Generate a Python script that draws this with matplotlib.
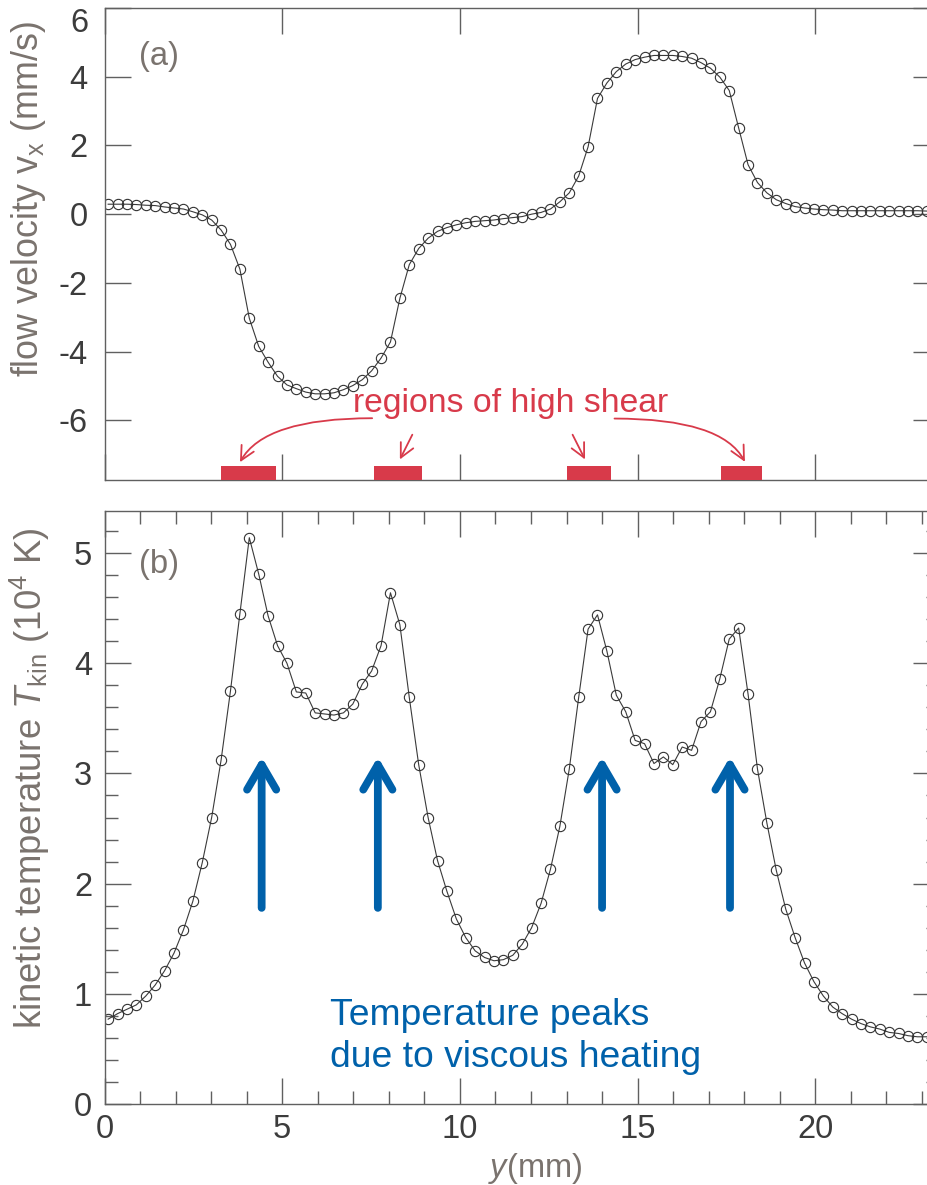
import numpy as np
import matplotlib
matplotlib.use("Agg")
import matplotlib.pyplot as plt
from matplotlib.ticker import MultipleLocator, NullLocator

plt.rcParams['font.family'] = ['Liberation Sans', 'DejaVu Sans']
plt.rcParams['mathtext.fontset'] = 'custom'
plt.rcParams['mathtext.rm'] = 'Liberation Sans'
plt.rcParams['mathtext.it'] = 'Liberation Sans:italic'
plt.rcParams['axes.unicode_minus'] = False

# ---------------- data ----------------
y_mm = np.linspace(0.10, 23.14, 88)

vx = [0.29, 0.29, 0.29, 0.28, 0.26, 0.25, 0.21, 0.18, 0.15, 0.07, -0.02, -0.17,
      -0.46, -0.88, -1.60, -3.03, -3.85, -4.31, -4.72, -4.97, -5.08, -5.18, -5.23,
      -5.23, -5.20, -5.11, -4.99, -4.82, -4.56, -4.19, -3.72, -2.45, -1.47,
      -1.00, -0.70, -0.50, -0.39, -0.31, -0.25, -0.21, -0.19, -0.17, -0.13, -0.10,
      -0.07, 0.00, 0.05, 0.15, 0.36, 0.62, 1.11, 1.96, 3.37, 3.82, 4.15, 4.37, 4.50,
      4.57, 4.62, 4.62, 4.62, 4.59, 4.54, 4.41, 4.25, 3.99,
      3.60, 2.51, 1.44, 0.92, 0.62, 0.42, 0.31, 0.22, 0.18, 0.15, 0.13, 0.12, 0.10,
      0.10, 0.10, 0.10, 0.10, 0.10, 0.10, 0.10, 0.10, 0.09]

Tkin = [0.77, 0.82, 0.86, 0.90, 0.98, 1.08, 1.21, 1.37, 1.58, 1.84, 2.19, 2.60,
        3.12, 3.75, 4.45, 5.14, 4.81, 4.43, 4.16, 4.00, 3.74, 3.73, 3.55, 3.54,
        3.53, 3.55, 3.63, 3.81, 3.93, 4.16, 4.64, 4.35, 3.69,
        3.08, 2.60, 2.21, 1.93, 1.68, 1.51, 1.39, 1.33, 1.30, 1.31, 1.35, 1.45,
        1.60, 1.82, 2.13, 2.52, 3.04, 3.69, 4.31, 4.44, 4.11, 3.71, 3.56, 3.30,
        3.27, 3.09, 3.15, 3.08, 3.24, 3.21, 3.47, 3.56, 3.86,
        4.22, 4.32, 3.72, 3.04, 2.55, 2.12, 1.77, 1.51, 1.28, 1.11, 0.98, 0.88,
        0.82, 0.77, 0.73, 0.70, 0.68, 0.65, 0.64, 0.62, 0.61, 0.61]

# high-shear regions (mm)
shear_start = [3.28, 7.58, 13.01, 17.35]
shear_end = [4.82, 8.93, 14.25, 18.51]

# red annotation arrows: (start, tip, connection)
red_arrow_start = [(7.53, -5.94), (8.66, -6.42), (13.17, -6.42), (14.35, -5.95)]
red_arrow_tip = [(3.81, -7.22), (8.31, -7.14), (13.52, -7.14), (18.02, -7.21)]
red_arrow_curve = ["angle3,angleA=0,angleB=61", "arc3,rad=0", "arc3,rad=0",
                   "angle3,angleA=0,angleB=-62"]

# blue arrows (x positions, base, tip)
blue_x = [4.42, 7.69, 14.0, 17.6]
blue_base = 1.78
blue_tip = 3.15

XLIM = (0, 23.48)
YLIM1 = (-7.74, 5.99)
YLIM2 = (0, 5.385)

RED = '#d83a4a'
BLUE = '#0061aa'
LABEL_GRAY = '#7a736e'
TICK_TXT = '#3c3c3c'
AX_GRAY = '#606060'
LINE = '#3a3a3a'

fig = plt.figure(figsize=(9.28, 11.85), dpi=100)
ax1 = fig.add_axes([0.1127, 0.5949, 0.8991, 0.3983])
ax2 = fig.add_axes([0.1127, 0.06835, 0.8991, 0.5007])

for ax in (ax1, ax2):
    for s in ax.spines.values():
        s.set_color(AX_GRAY)
        s.set_linewidth(1.0)
    ax.tick_params(which='both', direction='in', top=True, right=True,
                   color=AX_GRAY, width=1.0, labelcolor=TICK_TXT, labelsize=23.5)
    ax.tick_params(which='major', length=18.5)
    ax.tick_params(which='minor', length=9.3)
    ax.set_xlim(*XLIM)

# ---- panel (a) ----
ax1.plot(y_mm, vx, '-', color=LINE, lw=0.8, marker='o', ms=7.4, mfc='none',
         mec='#333333', mew=0.8)
ax1.set_ylim(*YLIM1)
ax1.set_yticks([-6, -4, -2, 0, 2, 4, 6])
ax1.set_xticks([0, 5, 10, 15, 20])
ax1.xaxis.set_minor_locator(NullLocator())
ax1.yaxis.set_minor_locator(NullLocator())
ax1.tick_params(axis='x', labelbottom=False)
ax1.tick_params(axis='y', pad=12)

ax1.bar(shear_start, 0.405, width=np.array(shear_end) - np.array(shear_start),
        bottom=YLIM1[0], align='edge', color=RED, zorder=3)
for st, tp, cs in zip(red_arrow_start, red_arrow_tip, red_arrow_curve):
    ax1.annotate('', xy=tp, xytext=st,
                 arrowprops=dict(arrowstyle='->,head_length=1.0,head_width=0.5',
                                 connectionstyle=cs, color=RED, lw=1.3,
                                 shrinkA=0, shrinkB=0, mutation_scale=10))
ax1.text(6.98, -5.77, 'regions of high shear', color=RED, fontsize=24.3,
         ha='left', va='baseline')
ax1.text(0.0412, 0.879, '(a)', transform=ax1.transAxes, color=LABEL_GRAY,
         fontsize=23.5, ha='left', va='baseline')
ax1.set_ylabel(r'flow velocity v$_\mathregular{x}$ (mm/s)', color=LABEL_GRAY,
               fontsize=25.8, ha='center', va='center')
ax1.yaxis.set_label_coords(-0.0906, 0.595)

# ---- panel (b) ----
ax2.plot(y_mm, Tkin, '-', color=LINE, lw=0.8, marker='o', ms=7.4, mfc='none',
         mec='#333333', mew=0.8)
ax2.set_ylim(*YLIM2)
ax2.set_yticks([0, 1, 2, 3, 4, 5])
ax2.set_xticks([0, 5, 10, 15, 20])
ax2.xaxis.set_minor_locator(MultipleLocator(1))
ax2.yaxis.set_minor_locator(MultipleLocator(0.2))
ax2.tick_params(axis='y', pad=9)
ax2.tick_params(axis='x', pad=7)

for bx in blue_x:
    ax2.annotate('', xy=(bx, blue_tip), xytext=(bx, blue_base),
                 arrowprops=dict(arrowstyle='->,head_length=1.8,head_width=1.05',
                                 color=BLUE, lw=5.6, shrinkA=0, shrinkB=0,
                                 mutation_scale=10, capstyle='round',
                                 joinstyle='round'))
ax2.text(6.34, 0.717, 'Temperature peaks', color=BLUE, fontsize=26.8,
         ha='left', va='baseline')
ax2.text(6.34, 0.336, 'due to viscous heating', color=BLUE, fontsize=26.8,
         ha='left', va='baseline')
ax2.text(0.0412, 0.895, '(b)', transform=ax2.transAxes, color=LABEL_GRAY,
         fontsize=23.5, ha='left', va='baseline')
ax2.set_ylabel(r'kinetic temperature $T_\mathregular{kin}$ (10$^\mathregular{4}$ K)',
               color=LABEL_GRAY, fontsize=26.3, ha='center', va='center')
ax2.yaxis.set_label_coords(-0.090, 0.5495)
ax2.set_xlabel(r'$y$(mm)', color=LABEL_GRAY, fontsize=23.5, ha='center', va='center')
ax2.xaxis.set_label_coords(0.516, -0.108)

# keep the top "6" label inside the figure
ax1.yaxis.get_major_ticks()[-1].label1.set_verticalalignment('top')

fig.savefig('out.png', dpi=100)
